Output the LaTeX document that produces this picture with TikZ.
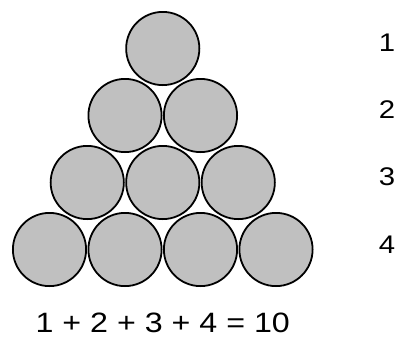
\documentclass[tikz,border=0pt]{standalone}
\usepackage{fontspec}
\setmainfont{Liberation Sans}[FakeStretch=1.15]

\tikzset{
    ball/.style={circle, draw, line width=1.8pt, fill=ballgray, inner sep=0pt, minimum size=73.2pt},
    rowlabel/.style={font=\fontsize{25.5}{28}\selectfont, inner sep=0pt}
}
\definecolor{ballgray}{HTML}{C0C0C0}

\begin{document}
\begin{tikzpicture}[x=1pt, y=-1pt]
    \useasboundingbox (0,0) rectangle (396,338);

    % Row 1
    \node[ball] (b11) at (162.75,48.5) {};
    % Row 2
    \node[ball] (b21) at (125,115.5) {};
    \node[ball] (b22) at (200.5,115.5) {};
    % Row 3
    \node[ball] (b31) at (87.25,182.5) {};
    \node[ball] (b32) at (162.75,182.5) {};
    \node[ball] (b33) at (238.25,182.5) {};
    % Row 4
    \node[ball] (b41) at (49.5,249.5) {};
    \node[ball] (b42) at (125,249.5) {};
    \node[ball] (b43) at (200.5,249.5) {};
    \node[ball] (b44) at (276,249.5) {};

    % Counts per row
    \node[rowlabel] (n1) at (387,43) {1};
    \node[rowlabel] (n2) at (387,110) {2};
    \node[rowlabel] (n3) at (387,177) {3};
    \node[rowlabel] (n4) at (387,245) {4};

    % Sum
    \node[font=\fontsize{28}{32}\selectfont, inner sep=0pt] (sum) at (162.75,323) {1 + 2 + 3 + 4 = 10};
\end{tikzpicture}
\end{document}
